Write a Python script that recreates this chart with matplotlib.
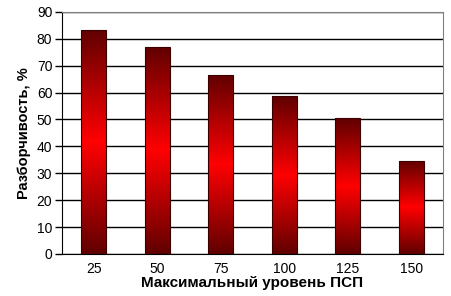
import numpy
import matplotlib
matplotlib.use("Agg")
import matplotlib.pyplot as plt
from matplotlib.colors import LinearSegmentedColormap

#%% Data
levels = ["25", "50", "75", "100", "125", "150"]
intelligibility = [83.4, 77.0, 66.7, 58.7, 50.5, 34.7]
yticks = [0, 10, 20, 30, 40, 50, 60, 70, 80, 90]

#%% Figure
plt.rcParams['font.family'] = ['Liberation Sans', 'DejaVu Sans']
fig = plt.figure(figsize=(4.51, 2.96), dpi=100)
ax = fig.add_axes([0.1375, 0.142, 0.845, 0.818])

# dark at both ends, bright red in the middle
cmap = LinearSegmentedColormap.from_list("bar", ["#600000", "#ff0000", "#600000"])
grad = numpy.linspace(0, 1, 256).reshape(-1, 1)

width = 0.39
bars = ax.bar(range(len(levels)), intelligibility, width=width, color='none',
              edgecolor='#3a0000', linewidth=0.8, zorder=3)
for rect in bars:
    x0, y0 = rect.get_x(), rect.get_y()
    w, h = rect.get_width(), rect.get_height()
    im = ax.imshow(grad, cmap=cmap, aspect='auto', extent=(x0, x0 + w, y0, y0 + h),
                   origin='lower', zorder=2)
    im.set_clip_path(rect)

ax.set_xlim(-0.5, len(levels) - 0.5)
ax.set_ylim(0, 90)
ax.set_yticks(yticks)
ax.set_xticks(range(len(levels)))
ax.set_xticklabels(levels)
ax.yaxis.grid(True, color='black', linewidth=1)
ax.set_axisbelow(True)

ax.tick_params(axis='y', length=5, width=1, pad=2, labelsize=10, colors='black')
ax.tick_params(axis='x', length=0, pad=6, labelsize=10)

for side in ['top', 'right']:
    ax.spines[side].set_color('#808080')
ax.spines['left'].set_color('black')
ax.spines['bottom'].set_color('black')

ax.set_xlabel('Максимальный уровень ПСП', fontsize=11, fontweight='bold', labelpad=0)
ax.set_ylabel('Разборчивость, %', fontsize=10.5, fontweight='bold', labelpad=4)

fig.savefig('out.png', dpi=100)
